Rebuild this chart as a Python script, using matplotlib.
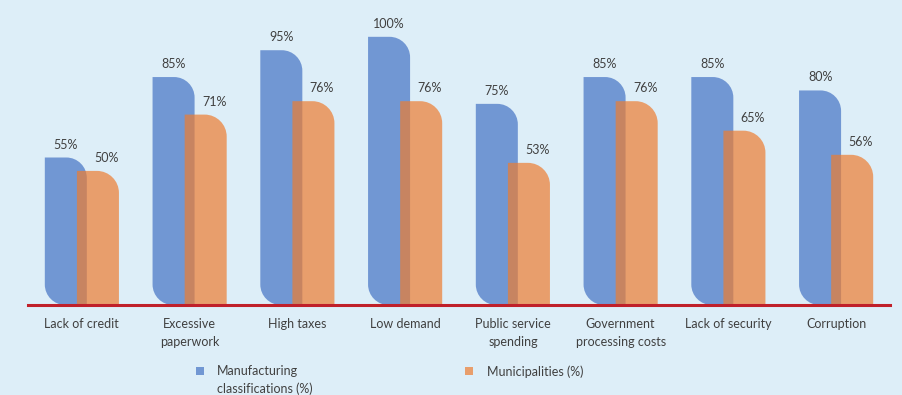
import matplotlib
matplotlib.use("Agg")
import matplotlib.pyplot as plt
from matplotlib.path import Path
from matplotlib.patches import PathPatch, Rectangle
import numpy as np

plt.rcParams['font.family'] = ['Lato', 'DejaVu Sans']

categories = ["Lack of credit", "Excessive\npaperwork", "High taxes", "Low demand",
              "Public service\nspending", "Government\nprocessing costs", "Lack of security", "Corruption"]
manufacturing = [55, 85, 95, 100, 75, 85, 85, 80]
municipalities = [50, 71, 76, 76, 53, 76, 65, 56]
series_names = ["Manufacturing\nclassifications (%)", "Municipalities (%)"]

BG = "#DDEEF8"
BLUE = "#4472C4"
ORANGE = "#ED7D31"
TEXT = "#404040"

W, H = 902, 395
fig = plt.figure(figsize=(W / 100, H / 100), dpi=100)
fig.patch.set_facecolor(BG)

ax_left, ax_right = 28, 890
ax_bottom, ax_top = 305, 10
ymax = 110
ax = fig.add_axes([ax_left / W, (H - ax_bottom) / H, (ax_right - ax_left) / W, (ax_bottom - ax_top) / H])
ax.set_facecolor(BG)
n = len(categories)
ax.set_xlim(-0.5, n - 0.5)
ax.set_ylim(0, ymax)
for s in ax.spines.values():
    s.set_visible(False)
ax.set_yticks([])
ax.set_xticks([])

px_per_x = (ax_right - ax_left) / n
px_per_y = (ax_bottom - ax_top) / ymax

width = 0.39
offset = 0.149
FS = 9


def bar_path(x0, w, h, r_px, round_bl):
    rx = r_px / px_per_x
    ry = r_px / px_per_y
    k = 0.5523
    x1 = x0 + w
    verts = []
    codes = []
    if round_bl:
        verts += [(x0 + rx, 0)]
    else:
        verts += [(x0, 0)]
    codes += [Path.MOVETO]
    verts += [(x1, 0)]
    codes += [Path.LINETO]
    verts += [(x1, h - ry)]
    codes += [Path.LINETO]
    verts += [(x1, h - ry + k * ry), (x1 - rx + k * rx, h), (x1 - rx, h)]
    codes += [Path.CURVE4] * 3
    verts += [(x0, h)]
    codes += [Path.LINETO]
    if round_bl:
        verts += [(x0, ry)]
        codes += [Path.LINETO]
        verts += [(x0, ry - k * ry), (x0 + rx - k * rx, 0), (x0 + rx, 0)]
        codes += [Path.CURVE4] * 3
    else:
        verts += [(x0, 0)]
        codes += [Path.LINETO]
    verts += [(0, 0)]
    codes += [Path.CLOSEPOLY]
    return Path(verts, codes)


xs = np.arange(n)
for i, v in enumerate(manufacturing):
    x0 = xs[i] - offset - width / 2
    p = PathPatch(bar_path(x0, width, v, 20.5, True), facecolor=BLUE, alpha=0.7,
                  edgecolor="none", zorder=2)
    ax.add_patch(p)
    ax.text(xs[i] - offset, v + 2.6, f"{v}%", ha="center", va="bottom",
            fontsize=FS, color=TEXT, zorder=5)
for i, v in enumerate(municipalities):
    x0 = xs[i] + offset - width / 2
    p = PathPatch(bar_path(x0, width, v, 22, False), facecolor=ORANGE, alpha=0.7,
                  edgecolor="none", zorder=3)
    ax.add_patch(p)
    ax.text(xs[i] + offset + 0.08, v + 2.6, f"{v}%", ha="center", va="bottom",
            fontsize=FS, color=TEXT, zorder=5)

ax.axhline(0, color="#C0202A", lw=2.2, zorder=4, clip_on=False)

for i, c in enumerate(categories):
    ax.text(xs[i], -5.0, c, ha="center", va="top", fontsize=FS, color=TEXT,
            linespacing=1.55)

# legend
fig.patches.append(Rectangle((196 / W, (H - 375) / H), 8 / W, 8 / H, transform=fig.transFigure,
                             facecolor=BLUE, alpha=0.7, edgecolor="none"))
fig.text(217 / W, (H - 365) / H, series_names[0], ha="left", va="top", fontsize=FS,
         color=TEXT, linespacing=1.55)
fig.patches.append(Rectangle((465 / W, (H - 375) / H), 8 / W, 8 / H, transform=fig.transFigure,
                             facecolor=ORANGE, alpha=0.7, edgecolor="none"))
fig.text(487 / W, (H - 365) / H, series_names[1], ha="left", va="top", fontsize=FS,
         color=TEXT, linespacing=1.55)

fig.savefig("out.png", dpi=100, facecolor=BG)
